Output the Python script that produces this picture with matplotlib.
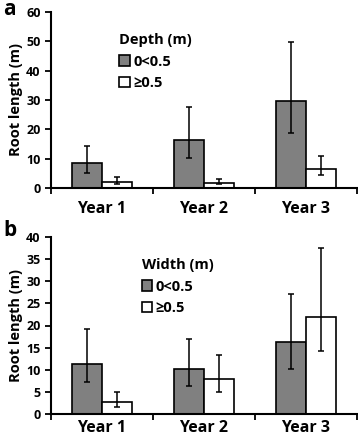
import matplotlib
matplotlib.use("Agg")
import matplotlib.pyplot as plt
import numpy as np

plt.rcParams['font.family'] = ['Open Sans', 'DejaVu Sans']
plt.rcParams['font.weight'] = 'bold'

years = ["Year 1", "Year 2", "Year 3"]
classes = ["0<0.5", "\u22650.5"]

# panel a: depth
depth_shallow = [8.5, 16.5, 29.6]
depth_shallow_lo = [5.2, 10.3, 18.8]
depth_shallow_hi = [14.2, 27.5, 49.7]
depth_deep = [2.0, 1.8, 6.5]
depth_deep_lo = [1.2, 1.2, 4.3]
depth_deep_hi = [3.8, 3.0, 10.9]

# panel b: width
width_narrow = [11.4, 10.1, 16.2]
width_narrow_lo = [7.2, 6.3, 10.2]
width_narrow_hi = [19.3, 16.9, 27.2]
width_wide = [2.8, 7.8, 21.9]
width_wide_lo = [1.6, 5.0, 14.2]
width_wide_hi = [4.9, 13.3, 37.6]


def panel(ax, s1, lo1, hi1, s2, lo2, hi2, ymax, ystep, title, letter,
          leg_x, letter_y, xpad):
    x = np.arange(len(years))
    w = 0.29
    for off, vals, lo, hi, col in [(-w / 2, s1, lo1, hi1, "#808080"),
                                   (w / 2, s2, lo2, hi2, "white")]:
        vals = np.array(vals)
        err = np.vstack([vals - np.array(lo), np.array(hi) - vals])
        ax.bar(x + off, vals, w, color=col, edgecolor="black", linewidth=1.2,
               zorder=2)
        ax.errorbar(x + off, vals, yerr=err, fmt="none", ecolor="black",
                    elinewidth=1.1, capsize=2, capthick=1.1, zorder=3)
    ax.set_xlim(-0.5, 2.5)
    ax.set_ylim(0, ymax)
    ax.set_yticks(np.arange(0, ymax + 1, ystep))
    ax.set_xticks([-0.5, 0.5, 1.5, 2.5])
    ax.set_xticklabels([])
    ax.set_xticks(x, minor=True)
    ax.set_xticklabels(years, minor=True, fontsize=11.5, fontweight="bold")
    ax.tick_params(axis="x", which="minor", length=0, pad=xpad)
    ax.tick_params(axis="x", which="major", length=4, width=1.3, direction="out")
    ax.tick_params(axis="y", length=4, width=1.3, direction="out", labelsize=9)
    for t in ax.get_yticklabels():
        t.set_fontweight("bold")
    for s in ["top", "right"]:
        ax.spines[s].set_visible(False)
    for s in ["left", "bottom"]:
        ax.spines[s].set_linewidth(1.5)
    ax.set_ylabel("Root length (m)", fontsize=10.5, fontweight="bold", labelpad=2)
    handles = [plt.Rectangle((0, 0), 1, 1, facecolor=c, edgecolor="black", linewidth=1.2)
               for c in ["#808080", "white"]]
    leg = ax.legend(handles, classes, title=title, loc="upper left",
                    bbox_to_anchor=(leg_x, 0.92), frameon=False, fontsize=10.5,
                    title_fontproperties={"weight": "bold", "size": 10.5},
                    handlelength=0.75, handleheight=0.75, handletextpad=0.2,
                    labelspacing=0.5, borderpad=0)
    leg._legend_box.align = "left"
    ax.text(-0.155, letter_y, letter, transform=ax.transAxes, fontsize=15,
            fontweight="bold", va="center", ha="left")


fig = plt.figure(figsize=(3.58, 4.41), dpi=100)
ax1 = fig.add_axes([51 / 358, 1 - 188 / 441, 306 / 358, 176 / 441])
ax2 = fig.add_axes([51 / 358, 1 - 414 / 441, 306 / 358, 177 / 441])
panel(ax1, depth_shallow, depth_shallow_lo, depth_shallow_hi,
      depth_deep, depth_deep_lo, depth_deep_hi, 60, 10, "Depth (m)", "a",
      0.2, 1.015, 9.5)
panel(ax2, width_narrow, width_narrow_lo, width_narrow_hi,
      width_wide, width_wide_lo, width_wide_hi, 40, 5, "Width (m)", "b",
      0.272, 1.035, 4)

fig.savefig("out.png", dpi=100)
